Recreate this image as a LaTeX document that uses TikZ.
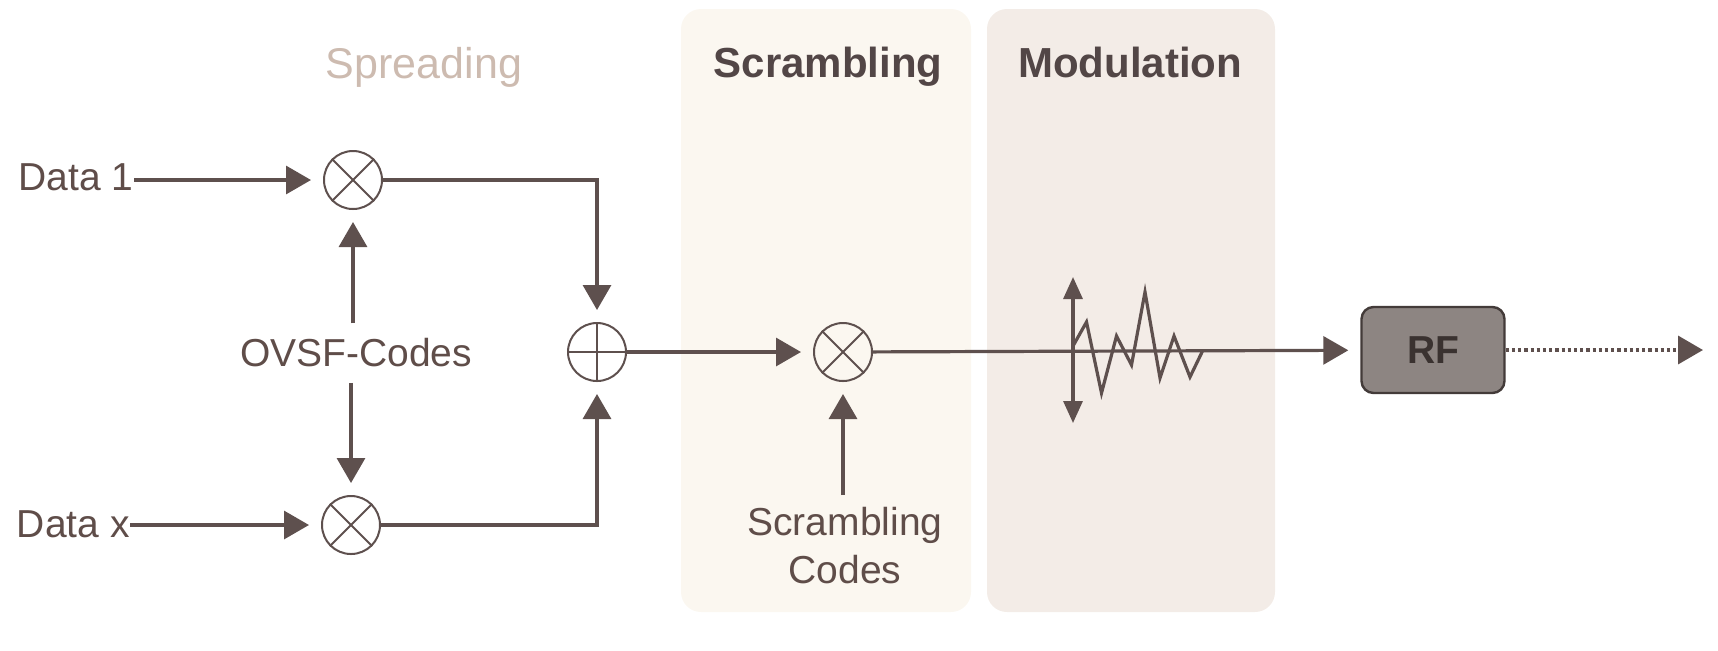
\documentclass[tikz,border=0pt]{standalone}
\usepackage{fontspec}
\setmainfont{Liberation Sans}
\usetikzlibrary{arrows.meta}
\definecolor{linec}{HTML}{5E504E}
\definecolor{textc}{HTML}{5F4D49}
\definecolor{headc}{HTML}{524646}
\definecolor{spreadc}{HTML}{CDBBB0}
\definecolor{scrpanel}{HTML}{FBF7F0}
\definecolor{modpanel}{HTML}{F3ECE7}
\definecolor{rffill}{HTML}{8D8582}
\definecolor{rfdraw}{HTML}{433B39}
\definecolor{rftext}{HTML}{3A3230}
\begin{document}
\begin{tikzpicture}[x=0.5pt,y=-0.5pt,
  mult/.style={circle, draw=linec, line width=1pt, minimum size=29pt, inner sep=0pt},
  wire/.style={draw=linec, line width=1.6pt},
  arr/.style={wire, -{Triangle[length=12.5pt,width=14pt]}, shorten >=6pt},
  dblarr/.style={wire, {Triangle[length=11pt,width=9.5pt]}-{Triangle[length=11pt,width=9.5pt]}},
  dotarr/.style={wire, line width=1.8pt, dash pattern=on 1.6pt off 1.5pt, -{Triangle[length=12.5pt,width=14pt]}},
  lbl/.style={text=textc, font=\fontsize{19.5}{24}\selectfont, inner sep=0pt},
  head/.style={font=\bfseries\fontsize{21}{25}\selectfont, inner sep=0pt},
  panel/.style={rounded corners=10pt},
  rfbox/.style={draw=rfdraw, line width=1.2pt, fill=rffill, rounded corners=6pt,
    minimum width=71.5pt, minimum height=43pt, text=rftext,
    font=\bfseries\fontsize{19.5}{24}\selectfont}
]
\useasboundingbox (0,0) rectangle (1718,650);
% panels
\fill[scrpanel, panel] (681,9) rectangle (971,612);
\fill[modpanel, panel] (987,9) rectangle (1275,612);

% headings
\node[inner sep=0pt, font=\fontsize{21.5}{25}\selectfont, text=spreadc, anchor=base] (hspread) at (424,78) {Spreading};
\node[head, text=headc, anchor=base] (hscr) at (828,77) {Scrambling};
\node[head, text=headc, anchor=base] (hmod) at (1130,77) {Modulation};

% multipliers and adder
\node[mult] (m1) at (353,180) {};
\node[mult] (m2) at (351,525) {};
\node[mult] (plus) at (597,352) {};
\node[mult] (s1) at (843,352) {};
\foreach \n in {m1,m2,s1}{
  \draw[draw=linec, line width=1pt] (\n.north west) -- (\n.south east);
  \draw[draw=linec, line width=1pt] (\n.north east) -- (\n.south west);
}
\draw[draw=linec, line width=1pt] (plus.north) -- (plus.south);
\draw[draw=linec, line width=1pt] (plus.west) -- (plus.east);

% labels
\node[lbl, anchor=base east] (d1) at (134,190) {Data 1};
\node[lbl, anchor=base east] (dx) at (130,537) {Data x};
\node[lbl, anchor=base] (ovsf) at (356,366) {OVSF-Codes};
\node[lbl, anchor=north, align=center] (sc) at (845,507) {Scrambling\\Codes};

% RF
\node[rfbox] (rf) at (1433,350) {RF};
\coordinate (out) at (1703,350);

% connectors
\draw[arr] (d1.east |- m1) -- (m1);
\draw[arr] (dx.east |- m2) -- (m2);
\draw[arr, shorten <=7pt] (m1 |- ovsf.north) -- (m1);
\draw[arr, shorten <=8pt] (m2 |- ovsf.south) -- (m2);
\draw[arr] (m1) -| (plus);
\draw[arr] (m2) -| (plus);
\draw[arr] (plus) -- (s1);
\draw[arr, shorten <=6pt] (s1 |- sc.north) -- (s1);
\draw[arr] (s1) -- (rf);
\draw[dotarr] (rf) -- (out);

% modulation waveform
\coordinate (wtop) at (1073,277);
\coordinate (wbot) at (1073,423);
\draw[dblarr] (wtop) -- (wbot);
\draw[wire, line join=miter] (1073,346) -- (1086.5,322) -- (1101.5,393) -- (1116.5,336)
  -- (1131.5,365) -- (1145,292) -- (1160,378) -- (1174,336) -- (1190,377) -- (1203,350);
\end{tikzpicture}
\end{document}
